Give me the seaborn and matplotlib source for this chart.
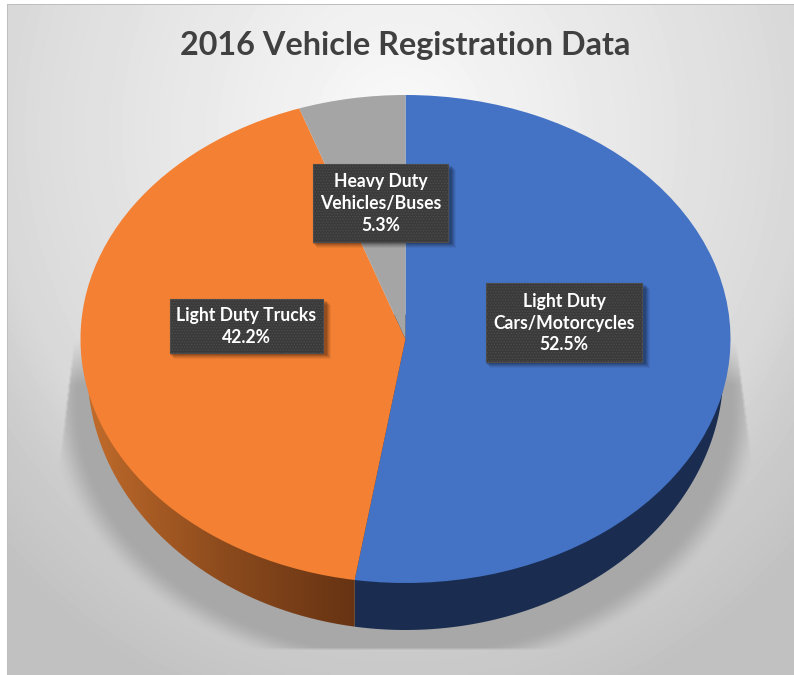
import numpy as np
import matplotlib
matplotlib.use("Agg")
import matplotlib.pyplot as plt
import seaborn as sns
from matplotlib.patches import Polygon, Rectangle
from matplotlib.path import Path
from matplotlib.patches import PathPatch

# ---- data ----
categories = ["Light Duty\nCars/Motorcycles", "Light Duty Trucks", "Heavy Duty\nVehicles/Buses"]
shares = [52.5, 42.2, 5.3]
title = "2016 Vehicle Registration Data"

# ---- style / layout ----
top_colors = ["#4472c4", "#f38033", "#a5a5a5"]
W, H = 794, 675
CX, CY, RX, RY = 405.5, 339.0, 325.0, 244.0
BOT_RX, BOT_CY, BOT_RY = 318.0, 370.0, 260.0
label_boxes = [(486, 283, 642, 362), (170, 299, 322.5, 353), (313, 164, 448, 242)]

sns.set_theme(style="white")
plt.rcParams["font.family"] = ["Lato", "DejaVu Sans"]
plt.rcParams["hatch.linewidth"] = 0.7

fig = plt.figure(figsize=(W / 100, H / 100), dpi=100, facecolor="white")
ax = fig.add_axes([0, 0, 1, 1])

px = lambda x: (np.asarray(x, float) - CX) / RX
py = lambda y: (CY - np.asarray(y, float)) / RY
XLIM = (px(0), px(W))
YLIM = (py(H), py(0))
EXT = (XLIM[0], XLIM[1], YLIM[0], YLIM[1])

# background gradient + shadow
yy, xx = np.mgrid[0:H, 0:W] + 0.5
d = np.hypot((xx - 400) / 400, (yy - 130) / 440)
bg = np.interp(d, [0, 1, 1.15, 1.4], [250, 217, 205, 193])

r = np.hypot((xx - 405) / 335, (yy - 403) / 258)
t = np.clip((1.07 - r) / 0.10, 0, 1)
sh = t * t * (3 - 2 * t)
edge_l = 70 - (yy - 380) * 10 / 85
edge_r = 741 + (yy - 380) * 11 / 85
sh = sh * (xx > edge_l) * (xx < edge_r) * (yy < 649) * np.clip((yy - 340) / 45, 0, 1)
for axis in (0, 1):
    k = np.ones(3) / 3
    sh = np.apply_along_axis(lambda v: np.convolve(v, k, mode="same"), axis, sh)
img = bg * (1 - sh) + 168 * sh
# frame outside of the chart area
img[:, :7] = 255
img[:4, :] = 255
img[4:5, 7:] = 190
img[4:, 7:8] = 190
ax.imshow(img, cmap="gray", vmin=0, vmax=255, extent=EXT, origin="upper",
          aspect="auto", zorder=0, interpolation="bilinear")

# slice geometry comes from the shares
ends = 90 - np.cumsum(shares) / np.sum(shares) * 360
xb = np.cos(np.deg2rad(ends[0]))           # blue / orange seam on the rim

# side walls
bx = BOT_RX / RX
bcy = py(BOT_CY)
bry = BOT_RY / RY
seam_y = np.sin(np.deg2rad(ends[0]))
def wall(x0, x1):
    xs = np.linspace(x0, x1, 300)
    ys = bcy - bry * np.sqrt(np.clip(1 - (xs / bx) ** 2, 0, 1))
    return np.column_stack([xs, ys])

right = wall(xb, bx)
right = np.vstack([[xb, seam_y], right, [bx, 0.1], [xb, 0.1]])
ax.add_patch(Polygon(right, closed=True, fc="#1a2d50", ec="none", zorder=1))
left = wall(-bx, xb)
left = np.vstack([[-bx, 0.1], left, [xb, seam_y], [xb, 0.1]])
clip = PathPatch(Path(np.vstack([left, left[:1]])), transform=ax.transData, fc="none", ec="none")
ax.add_patch(clip)
grad = np.interp(np.linspace(0, 1, 400), [0, 0.15, 0.5, 1], [0, 0.2, 0.58, 1])
c0, c1 = np.array([0xc2, 0x6c, 0x2b]) / 255, np.array([0x66, 0x33, 0x13]) / 255
rgb = (c0[None, :] * (1 - grad[:, None]) + c1[None, :] * grad[:, None])[None, :, :]
im = ax.imshow(rgb, extent=(-bx, xb, left[:, 1].min(), 0.1), aspect="auto", zorder=1)
im.set_clip_path(clip)

# top face
wedges, _ = ax.pie(shares, colors=sns.color_palette(top_colors), startangle=90,
                   counterclock=False, radius=1, center=(0, 0),
                   wedgeprops=dict(linewidth=0, zorder=2))
ax.set_aspect("auto")
ax.set_xlim(*XLIM)
ax.set_ylim(*YLIM)
ax.set_axis_off()

# data labels
for cat, val, (x0, y0, x1, y1) in zip(categories, shares, label_boxes):
    X0, X1, Y0, Y1 = px(x0), px(x1), py(y1), py(y0)
    for off, a in [(6, .05), (5, .07), (4, .09), (3, .11), (2, .13)]:
        ax.add_patch(Rectangle((px(x0 + off - 2), py(y1 + off)), X1 - X0 + 4 / RX - 0, Y1 - Y0,
                               fc="black", ec="none", alpha=a, zorder=3))
    ax.add_patch(Rectangle((X0, Y0), X1 - X0, Y1 - Y0, fc="#3a3a3a", ec="#4c4c4c",
                           hatch="......", lw=0.8, zorder=4))
    ax.text((X0 + X1) / 2, (Y0 + Y1) / 2 - 0.5 / RY, f"{cat}\n{val:.1f}%", color="white",
            ha="center", va="center", fontsize=12.7, fontweight="bold",
            linespacing=1.34, zorder=5)

ax.text(px(405.5), py(45), title, color="#404040", ha="center", va="center",
        fontsize=23.3, fontweight="bold", zorder=5)

fig.savefig("out.png", dpi=100, facecolor="white")
